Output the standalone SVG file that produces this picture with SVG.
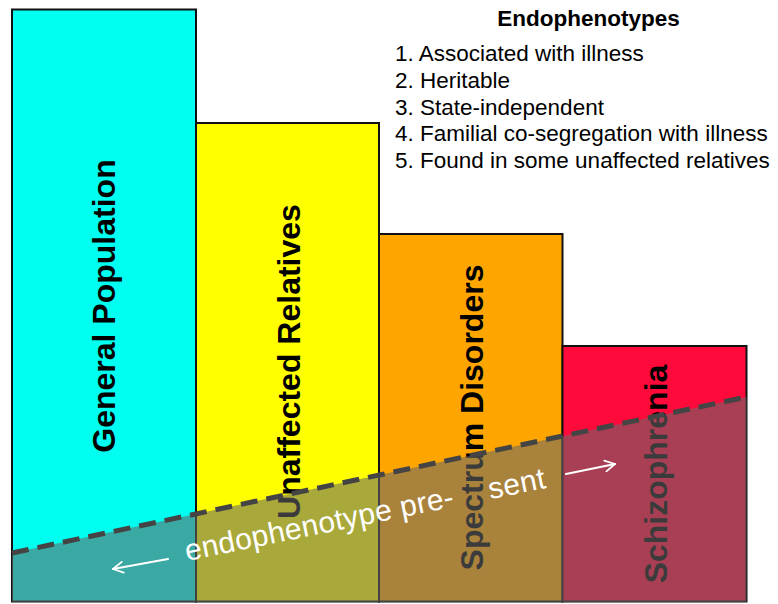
<svg xmlns="http://www.w3.org/2000/svg" width="778" height="604" viewBox="0 0 778 604">
<style>
.bar{stroke:#111;stroke-width:2}
.lbl{font-family:"Liberation Sans",Arial,sans-serif;font-weight:bold;font-size:32px;fill:#000;text-anchor:middle}
.leg{font-family:"Liberation Sans",Arial,sans-serif;font-size:22.5px;fill:#000}
.arr{stroke:#fff;stroke-width:2.2;fill:none;stroke-linecap:round;stroke-linejoin:round}
</style>
<defs>
<marker id="ah" viewBox="0 0 12 12" refX="10" refY="6" markerWidth="6" markerHeight="6" orient="auto" markerUnits="strokeWidth">
<path d="M1,1 L10,6 L1,11" fill="none" stroke="#fff" stroke-width="1.6" stroke-linecap="round" stroke-linejoin="round"/>
</marker>
</defs>
<rect width="778" height="604" fill="#fff"/>
<g id="general-population">
<rect class="bar" x="12" y="9.5" width="184" height="592" fill="#00FFF0"/>
<text class="lbl" transform="translate(115,306) rotate(-90)">General Population</text>
</g>
<g id="unaffected-relatives">
<rect class="bar" x="196" y="123" width="183" height="478.5" fill="#FFFF00"/>
<text class="lbl" transform="translate(300,361.5) rotate(-90)">Unaffected Relatives</text>
</g>
<g id="spectrum-disorders">
<rect class="bar" x="379" y="234" width="183.5" height="367.5" fill="#FFA500"/>
<text class="lbl" transform="translate(483,417.5) rotate(-90)">Spectrum Disorders</text>
</g>
<g id="schizophrenia">
<rect class="bar" x="562.5" y="346" width="184" height="255.5" fill="#FF0A3A"/>
<text class="lbl" transform="translate(667,474) rotate(-90)">Schizophrenia</text>
</g>
<g id="endophenotype-region">
<polygon points="12,553 746.5,397 746.5,602 12,602" fill="#676767" fill-opacity="0.57"/>
<line x1="12" y1="553" x2="746.5" y2="397" stroke="#444" stroke-width="5" stroke-dasharray="17 9"/>
<text transform="translate(187,561) rotate(-11.5)" font-family="'Liberation Sans',Arial,sans-serif" font-size="30" fill="#fff" letter-spacing="0.3">endophenotype pre-<tspan dx="27"> sent</tspan></text>
</g>
<g id="connectors">
<line class="arr" x1="168" y1="559" x2="113" y2="569" marker-end="url(#ah)"/>
<line class="arr" x1="566" y1="474" x2="615" y2="464" marker-end="url(#ah)"/>
</g>
<g id="legend">
<text class="leg" x="588.5" y="26" text-anchor="middle" font-weight="bold">Endophenotypes</text>
<text class="leg" x="395" y="61">1. Associated with illness</text>
<text class="leg" x="395" y="88">2. Heritable</text>
<text class="leg" x="395" y="114.5">3. State-independent</text>
<text class="leg" x="395" y="141">4. Familial co-segregation with illness</text>
<text class="leg" x="395" y="168">5. Found in some unaffected relatives</text>
</g>
</svg>
